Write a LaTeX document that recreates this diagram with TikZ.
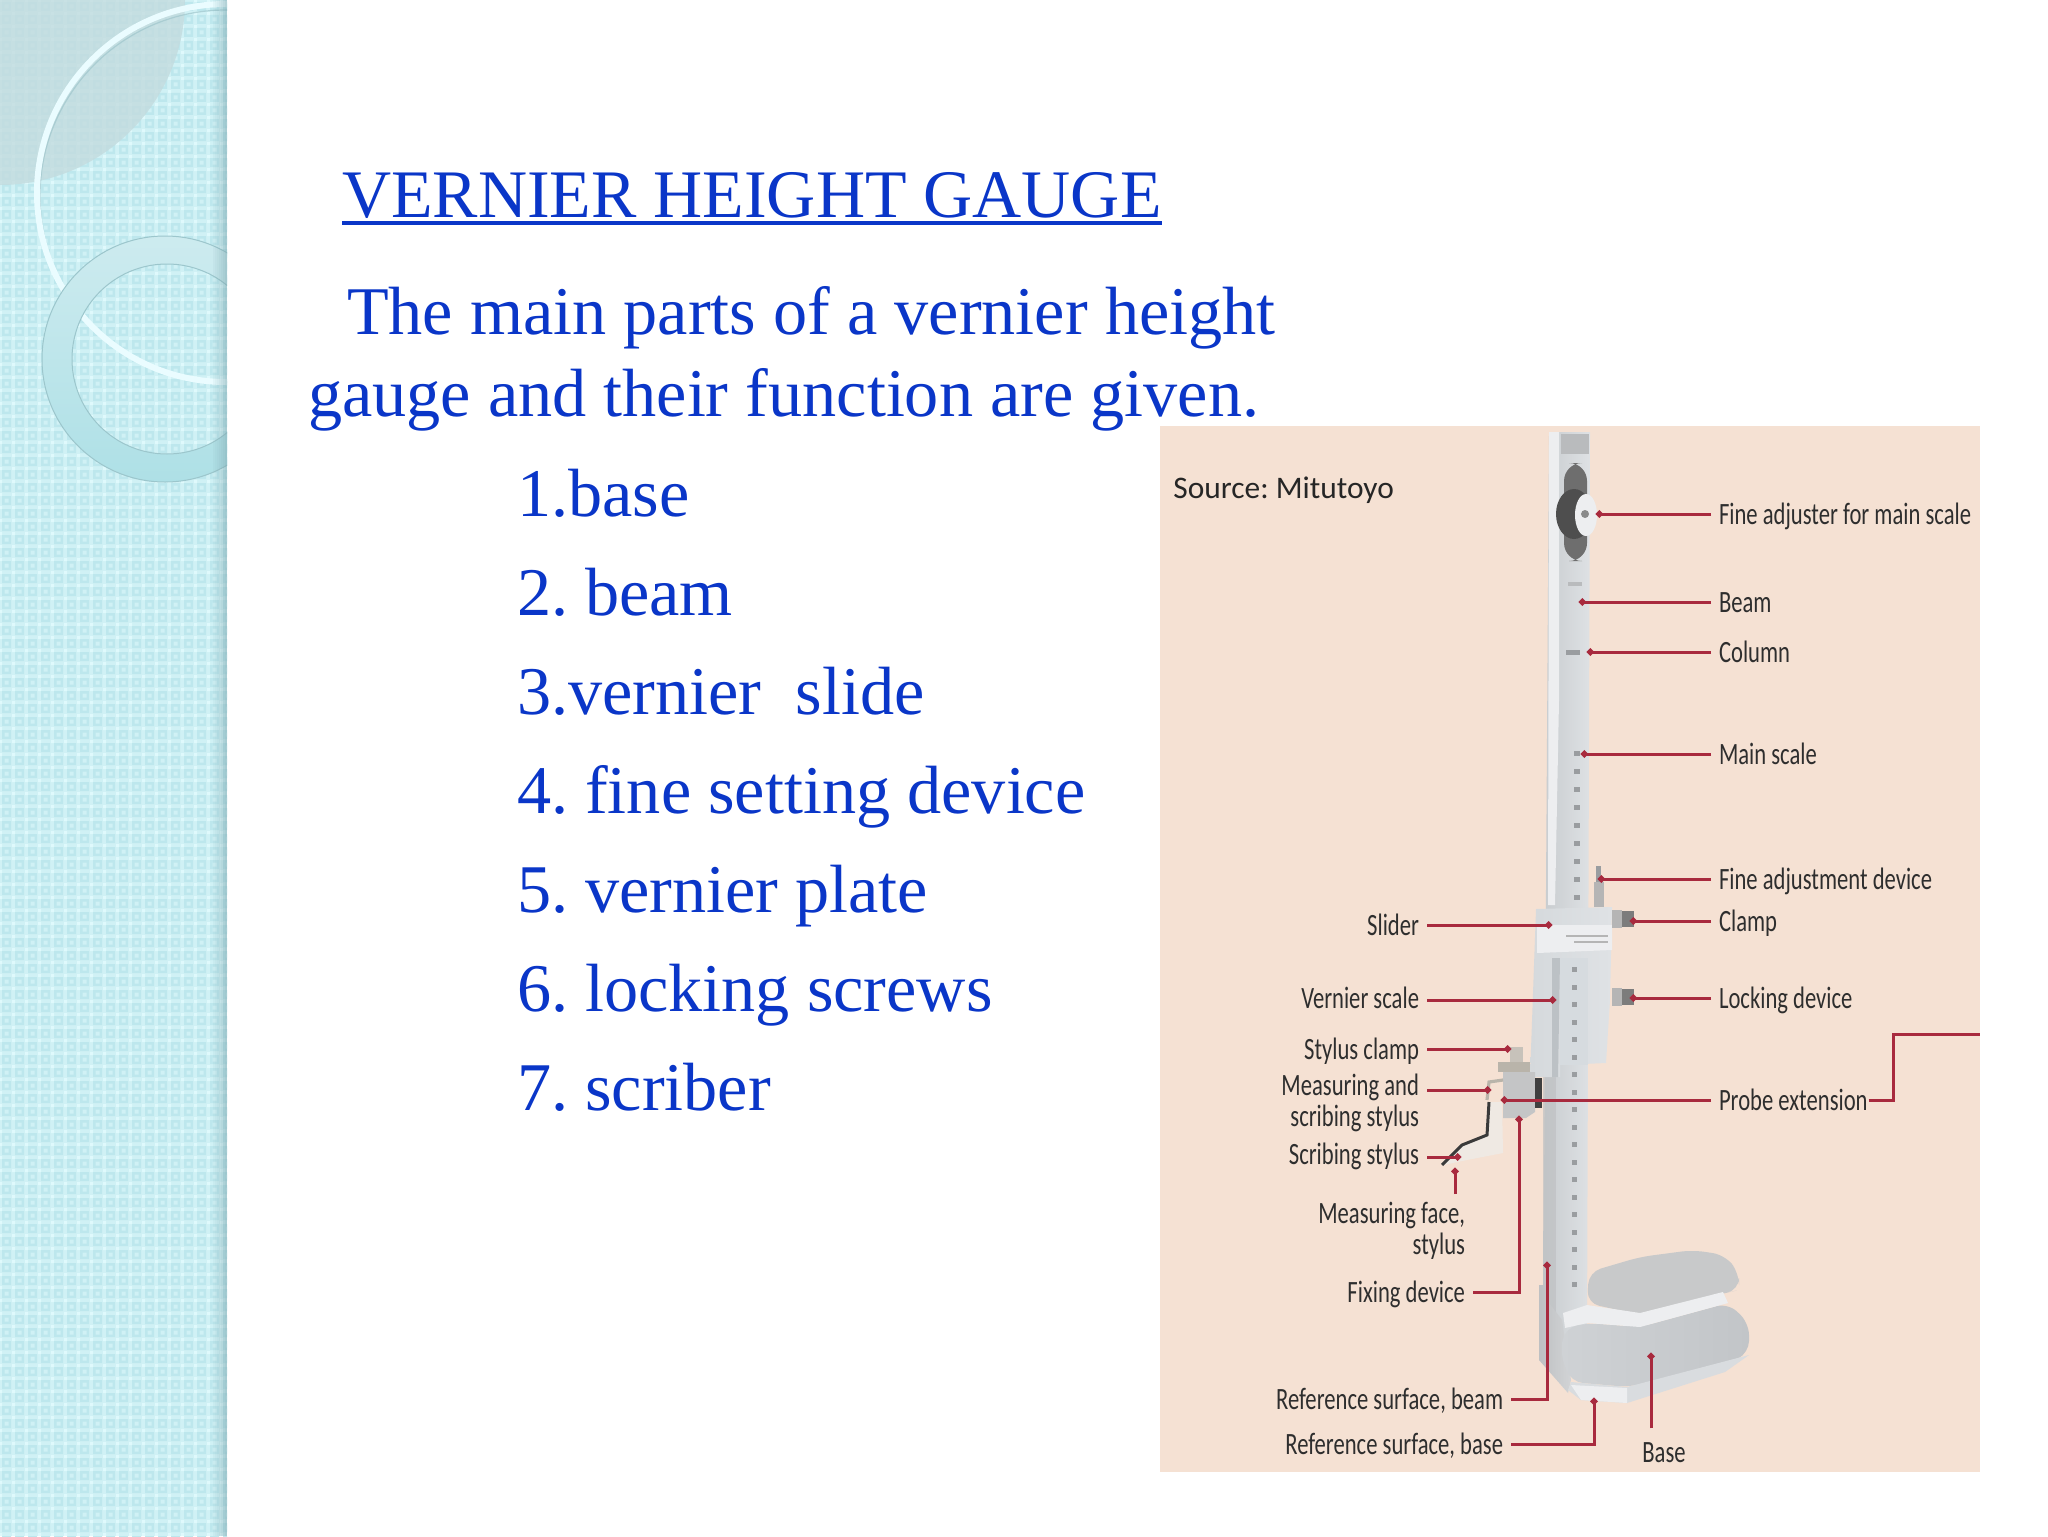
\documentclass[tikz,border=0pt]{standalone}
\usepackage{fontspec}
\usepackage{graphicx}
\setmainfont{Liberation Serif}
\newfontfamily\labfont{Carlito}
\usetikzlibrary{arrows.meta,calc}
\frenchspacing
\definecolor{sidebase}{HTML}{D0F1F5}
\definecolor{sidecell}{HTML}{BDE7ED}
\definecolor{sidelite}{HTML}{DFF9FC}
\definecolor{greyleaf}{HTML}{C3DBDE}
\definecolor{ringshadow}{HTML}{9FC6CC}
\definecolor{ringwhite}{HTML}{EAFCFF}
\definecolor{ringtop}{HTML}{CDEBEF}
\definecolor{ringbot}{HTML}{AEE0E6}
\definecolor{ringedge}{HTML}{9CC6CC}
\definecolor{edgeshade}{HTML}{7FA9B1}
\definecolor{inkblue}{HTML}{0A36C8}
\definecolor{panel}{HTML}{F5E1D3}
\definecolor{leadred}{HTML}{A82A3E}
\definecolor{metalA}{HTML}{C8CCCF}
\definecolor{metalB}{HTML}{DEE1E4}
\definecolor{metalC}{HTML}{BFC1C3}
\definecolor{metalD}{HTML}{B9BBBD}
\definecolor{metalE}{HTML}{EDEEF0}
\definecolor{slotgrey}{HTML}{6E6E6E}
\definecolor{wheelgrey}{HTML}{4E4E4E}
\definecolor{hubgrey}{HTML}{8A8A8A}
\definecolor{markgrey}{HTML}{9A9DA0}
\definecolor{sliderL}{HTML}{D5D9DC}
\definecolor{sliderR}{HTML}{DFE2E5}
\definecolor{sliderS}{HTML}{BCC1C5}
\definecolor{sliderM}{HTML}{D6DBDF}
\definecolor{screwA}{HTML}{B5B5B5}
\definecolor{screwB}{HTML}{7C7C7C}
\definecolor{clampA}{HTML}{C7C2BA}
\definecolor{clampB}{HTML}{B9B4AA}
\definecolor{holder}{HTML}{C4C5C6}
\definecolor{darkblock}{HTML}{3F3F3F}
\definecolor{armlight}{HTML}{EFE9E3}
\definecolor{armdark}{HTML}{3A3A3A}
\definecolor{footL}{HTML}{BEC0C2}
\definecolor{footR}{HTML}{D2D4D6}
\definecolor{bulgeL}{HTML}{CFD2D5}
\definecolor{bulgeR}{HTML}{C2C5C8}
\definecolor{footlow}{HTML}{D9DCDF}
\definecolor{topplate}{HTML}{C8C9CA}
\newcommand{\lbl}[1]{\scalebox{.73}[1]{\vphantom{Ág}#1}}
\tikzset{
  x=0.5pt,y=-0.5pt,
  head/.style={inner sep=0pt,outer sep=0pt,anchor=base west,text=inkblue,font=\fontsize{34.12}{40}\selectfont},
  partlabel/.style={inner sep=0pt,outer sep=4pt,text=black!82,font=\labfont\fontsize{15.5}{15.5}\selectfont},
  lead/.style={draw=leadred,line width=1.5pt,-{Circle[length=3.4pt,width=3.4pt]}},
  leadplain/.style={draw=leadred,line width=1.5pt},
  metal/.style={left color=metalA,right color=metalB,draw=none},
}
\begin{document}
\begin{tikzpicture}
\useasboundingbox (0,0) rectangle (2048,1536);
\fill[white] (0,0) rectangle (2048,1536);
% ---- sidebar
\begin{scope}
\clip (0,0) rectangle (227,1536);
\fill[sidebase] (0,0) rectangle (227,1536);
\fill[sidecell] foreach \i in {0,...,17}{foreach \j in {0,...,118}{
   ({\i*13+2},{\j*13+2}) rectangle ++(9,9)}};
\fill[sidebase] foreach \i in {0,...,17}{foreach \j in {0,...,118}{
   ({\i*13+4.5},{\j*13+4.5}) rectangle ++(4,4)}};
\fill[sidelite] foreach \i in {0,...,17}{foreach \j in {0,...,118}{
   ({\i*13-1},{\j*13-1}) rectangle ++(3,3)}};
\fill[greyleaf,fill opacity=.8] (0,0) circle[radius=185];
\draw[ringshadow,line width=.6pt,opacity=.7] (226,196) circle[radius=186];
\draw[ringwhite,line width=3pt] (226,193) circle[radius=189];
\path[even odd rule,top color=ringtop,bottom color=ringbot,draw=ringedge,line width=.5pt]
  (165,359) circle[radius=123] (167,359) circle[radius=95];
\foreach \k/\o in {0/.08,1/.14,2/.2,3/.27,4/.34,5/.42,6/.5}
  \fill[edgeshade,fill opacity=\o] ({213+2*\k},0) rectangle ++(2,1536);
\end{scope}
% ---- text
\node[head,font=\fontsize{34}{40}\selectfont] (title) at (342,217) {VERNIER HEIGHT GAUGE};
\fill[inkblue] ($(title.base west)+(0,4)$) rectangle ($(title.base east)+(0,8)$);
\node[head] (intro1) at (347,334) {The main parts of a vernier height};
\node[head] (intro2) at (308,416) {gauge and their function are given.};
\node[head] (p1) at (517,516) {1.base};
\node[head] (p2) at (517,615) {2. beam};
\node[head] (p3) at (517,714) {3.vernier\ \ slide};
\node[head] (p4) at (517,813) {4. fine setting device};
\node[head] (p5) at (517,912) {5. vernier plate};
\node[head] (p6) at (517,1011) {6. locking screws};
\node[head] (p7) at (517,1110) {7. scriber};
% ---- picture panel
\fill[panel] (1160,426) rectangle (1980,1472);
% column
\path[metal] (1549,432) -- (1590,432) -- (1587,1340) -- (1543,1340) -- cycle;
\fill[metalE] (1549,432) -- (1559,432) -- (1559,700) -- (1555,905) -- (1548,905) -- cycle;
\fill[metalC,opacity=.7] (1543,1075) -- (1556,1075) -- (1556,1340) -- (1543,1340) -- cycle;
\fill[metalD] (1561,434) rectangle (1589,454);
% fine adjuster
\fill[slotgrey,rounded corners=9pt] (1564,463) rectangle (1587,561);
\fill[wheelgrey] (1574,514) ellipse[x radius=18,y radius=25];
\fill[metalE] (1586,515) ellipse[x radius=11,y radius=21];
\fill[hubgrey] (1585,514) circle[radius=4];
\fill[metalD] (1568,582) rectangle (1582,586);
\fill[markgrey] (1566,650) rectangle (1580,655);
% scale marks
\foreach \k in {0,...,8} \fill[markgrey] (1574,{751+18*\k}) rectangle ++(6,5);
% fine adjustment device
\fill[markgrey] (1596,866) rectangle (1601,885);
\fill[screwA] (1594,882) rectangle (1604,907);
% slider
\path[left color=sliderL,right color=sliderR] (1536,909) -- (1612,907) -- (1610,1000) -- (1606,1063) -- (1560,1065) -- (1560,1077) -- (1530,1077) -- cycle;
\fill[sliderS] (1552,958) -- (1560,958) -- (1558,1077) -- (1552,1077) -- cycle;
\fill[sliderM] (1560,958) rectangle (1588,1065);
\fill[metalE] (1537,925) -- (1612,925) -- (1612,950) -- (1537,953) -- cycle;
\fill[screwA] (1566,935) rectangle (1608,937);
\fill[screwA] (1574,941) rectangle (1608,943);
% lower scale marks
\foreach \k in {0,...,18} \fill[markgrey] (1572,{967+17.5*\k}) rectangle ++(5,5);
% clamp screws
\foreach \yy in {919,997}{
  \fill[screwA] (1612,{\yy-9}) rectangle (1622,{\yy+9});
  \fill[screwB] (1622,{\yy-8}) rectangle (1634,{\yy+8});
}
% stylus holder
\fill[clampA] (1510,1047) rectangle (1523,1063);
\fill[clampB] (1498,1062) rectangle (1530,1072);
\fill[holder] (1503,1072) -- (1535,1072) -- (1535,1112) -- (1526,1118) -- (1503,1118) -- cycle;
\fill[darkblock] (1535,1078) rectangle (1542,1108);
\draw[clampB,line width=1.6pt] (1503,1080) -- (1489,1082) -- (1487,1100);
\fill[armlight] (1488,1102) -- (1502,1102) -- (1503,1153) -- (1467,1160) -- (1443,1165) -- (1460,1145) -- (1487,1135) -- cycle;
\draw[armdark,line width=1.5pt] (1489,1102) -- (1487,1135) -- (1462,1145) -- (1442,1165);
% base
\path[left color=footL,right color=footR] (1539,1285) -- (1547,1285) -- (1547,1300) -- (1562,1320) -- (1571,1380) -- (1568,1393) -- (1539,1360) -- cycle;
\path[left color=bulgeL,right color=bulgeR,rounded corners=6pt] (1565,1328) -- (1587,1323) -- (1640,1327) -- (1728,1303) -- (1749,1323) -- (1749,1353) -- (1725,1365) -- (1629,1387) -- (1571,1382) -- (1560,1353) -- cycle;
\fill[footlow] (1571,1382) -- (1627,1387) -- (1749,1355) -- (1725,1372) -- (1627,1403) -- (1581,1400) -- (1568,1390) -- cycle;
\fill[metalE] (1581,1400) -- (1571,1385) -- (1627,1388) -- (1627,1403) -- cycle;
\fill[topplate,rounded corners=6pt] (1589,1272) -- (1640,1257) -- (1693,1250) -- (1725,1255) -- (1739,1273) -- (1739,1290) -- (1725,1293) -- (1640,1315) -- (1587,1303) -- cycle;
\fill[metalE] (1563,1313) -- (1587,1305) -- (1640,1313) -- (1723,1292) -- (1728,1303) -- (1640,1327) -- (1587,1323) -- (1565,1328) -- cycle;
% ---- labels
\node[inner sep=0pt,anchor=west,text=black!85,font=\labfont\fontsize{15.7}{17}\selectfont] (source) at (1173,490) {Source: Mitutoyo};
\node[partlabel,anchor=west] (fa) at (1711,514) {\lbl{Fine adjuster for main scale}};
\node[partlabel,anchor=west] (beam) at (1711,602) {\lbl{Beam}};
\node[partlabel,anchor=west] (col) at (1711,652) {\lbl{Column}};
\node[partlabel,anchor=west] (ms) at (1711,754) {\lbl{Main scale}};
\node[partlabel,anchor=west] (fd) at (1711,879) {\lbl{Fine adjustment device}};
\node[partlabel,anchor=west] (cl) at (1711,921) {\lbl{Clamp}};
\node[partlabel,anchor=west] (ld) at (1711,998) {\lbl{Locking device}};
\node[partlabel,anchor=west] (pe) at (1711,1100) {\lbl{Probe extension}};
\node[partlabel,anchor=east] (sl) at (1427,925) {\lbl{Slider}};
\node[partlabel,anchor=east] (vs) at (1427,998) {\lbl{Vernier scale}};
\node[partlabel,anchor=east] (sc) at (1427,1049) {\lbl{Stylus clamp}};
\node[partlabel,anchor=east,align=right] (mss) at (1427,1105) {\scalebox{.73}[1]{\begin{tabular}{@{}r@{}}Measuring and\\ scribing stylus\end{tabular}}};
\node[partlabel,anchor=east] (ss) at (1427,1154) {\lbl{Scribing stylus}};
\node[partlabel,anchor=east,align=right] (mf) at (1473,1233) {\scalebox{.73}[1]{\begin{tabular}{@{}r@{}}Measuring face,\\ stylus\end{tabular}}};
\node[partlabel,anchor=east] (fx) at (1473,1292) {\lbl{Fixing device}};
\node[partlabel,anchor=east] (rb) at (1511,1399) {\lbl{Reference surface, beam}};
\node[partlabel,anchor=east] (rs) at (1511,1444) {\lbl{Reference surface, base}};
\node[partlabel,anchor=center] (bs) at (1664,1452) {\lbl{Base}};
% ---- targets
\coordinate (fat) at (1596,514);
\coordinate (beamt) at (1579,602);
\coordinate (colt) at (1587,652);
\coordinate (mst) at (1581,754);
\coordinate (fdt) at (1598,879);
\coordinate (clt) at (1630,921);
\coordinate (ldt) at (1630,998);
\coordinate (pet) at (1501,1100);
\coordinate (slt) at (1552,925);
\coordinate (vst) at (1556,1000);
\coordinate (sct) at (1511,1049);
\coordinate (msst) at (1491,1090);
\coordinate (sst) at (1461,1157);
\coordinate (mft) at (1455,1168);
\coordinate (fxt) at (1519,1116);
\coordinate (rbt) at (1547,1262);
\coordinate (rst) at (1594,1398);
\coordinate (bst) at (1651,1353);
\coordinate (probefree) at (1980,1034);
% ---- connectors
\draw[lead] (fa.west) -- (fat);
\draw[lead] (beam.west) -- (beamt);
\draw[lead] (col.west) -- (colt);
\draw[lead] (ms.west) -- (mst);
\draw[lead] (fd.west) -- (fdt);
\draw[lead] (cl.west) -- (clt);
\draw[lead] (ld.west) -- (ldt);
\draw[lead] (pe.west) -- (pet);
\draw[leadplain] ($(pe.east)+(-7,0)$) -- ++(25,0) |- (probefree);
\draw[lead] (sl.east) -- (slt);
\draw[lead] (vs.east |- vst) -- (vst);
\draw[lead] (sc.east) -- (sct);
\draw[lead] (mss.east |- msst) -- (msst);
\draw[lead] (ss.east |- sst) -- (sst);
\draw[lead] (mft |- mf.north) -- (mft);
\draw[lead] (fx.east) -| (fxt);
\draw[lead] (rb.east) -| (rbt);
\draw[lead] (rs.east) -| (rst);
\draw[lead] (bst |- bs.north) -- (bst);
\end{tikzpicture}
\end{document}
